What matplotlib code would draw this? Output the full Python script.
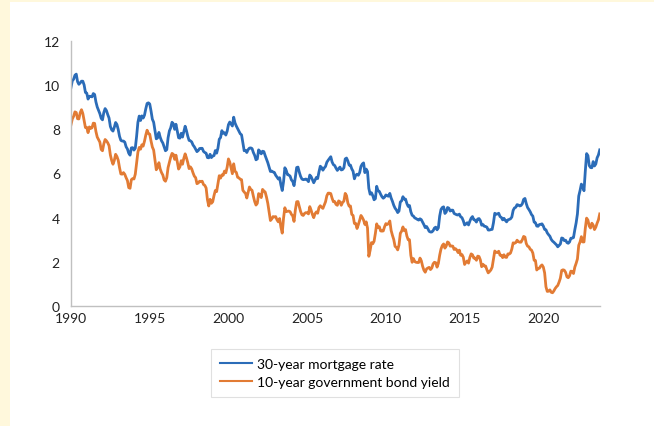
import numpy as np
import matplotlib.pyplot as plt
from matplotlib.patches import Rectangle

# monthly values, Jan 1990 - Aug 2023
start_year = 1990
mortgage_rate = [
    9.90, 10.20, 10.27, 10.45, 10.50, 10.16, 10.04, 10.10, 10.18, 10.18, 10.01, 9.67,   # 1990
    9.64, 9.37, 9.50, 9.49, 9.47, 9.62, 9.58, 9.24, 9.01, 8.86, 8.71, 8.50,             # 1991
    8.43, 8.76, 8.94, 8.85, 8.67, 8.51, 8.13, 7.98, 7.92, 8.09, 8.31, 8.22,             # 1992
    7.99, 7.68, 7.50, 7.47, 7.47, 7.42, 7.21, 7.11, 6.92, 6.83, 7.16, 7.17,             # 1993
    7.06, 7.15, 7.68, 8.32, 8.60, 8.40, 8.61, 8.51, 8.64, 8.93, 9.17, 9.20,             # 1994
    9.15, 8.83, 8.46, 8.32, 7.96, 7.57, 7.61, 7.86, 7.64, 7.48, 7.38, 7.20,             # 1995
    7.03, 7.08, 7.62, 7.93, 8.07, 8.32, 8.25, 8.00, 8.23, 7.92, 7.62, 7.60,             # 1996
    7.82, 7.65, 7.90, 8.14, 7.94, 7.69, 7.50, 7.48, 7.43, 7.29, 7.21, 7.10,             # 1997
    6.99, 7.04, 7.13, 7.14, 7.14, 7.00, 6.95, 6.92, 6.72, 6.71, 6.87, 6.72,             # 1998
    6.79, 6.81, 7.04, 6.92, 7.15, 7.55, 7.63, 7.94, 7.82, 7.85, 7.74, 7.91,             # 1999
    8.21, 8.33, 8.24, 8.15, 8.55, 8.29, 8.15, 8.03, 7.91, 7.80, 7.75, 7.38,             # 2000
    7.03, 7.05, 6.95, 7.08, 7.15, 7.16, 7.13, 6.95, 6.82, 6.62, 6.66, 7.07,             # 2001
    7.00, 6.89, 7.01, 6.99, 6.81, 6.65, 6.49, 6.29, 6.09, 6.11, 6.07, 6.05,             # 2002
    5.92, 5.84, 5.75, 5.81, 5.48, 5.23, 5.63, 6.26, 6.15, 5.95, 5.93, 5.88,             # 2003
    5.71, 5.64, 5.45, 5.83, 6.27, 6.29, 6.06, 5.87, 5.75, 5.72, 5.73, 5.75,             # 2004
    5.71, 5.63, 5.93, 5.86, 5.72, 5.58, 5.70, 5.82, 5.77, 6.07, 6.33, 6.27,             # 2005
    6.15, 6.25, 6.32, 6.51, 6.60, 6.68, 6.76, 6.52, 6.40, 6.36, 6.24, 6.14,             # 2006
    6.22, 6.29, 6.16, 6.18, 6.26, 6.66, 6.70, 6.57, 6.38, 6.38, 6.21, 6.10,             # 2007
    5.76, 5.92, 5.97, 5.92, 6.04, 6.32, 6.43, 6.48, 6.04, 6.20, 6.09, 5.33,             # 2008
    5.06, 5.13, 5.00, 4.81, 4.86, 5.42, 5.22, 5.19, 5.06, 4.95, 4.88, 4.93,             # 2009
    5.03, 4.99, 4.97, 5.10, 4.89, 4.74, 4.56, 4.43, 4.35, 4.23, 4.30, 4.71,             # 2010
    4.76, 4.95, 4.84, 4.84, 4.64, 4.51, 4.55, 4.27, 4.11, 4.07, 3.99, 3.96,             # 2011
    3.92, 3.89, 3.95, 3.91, 3.80, 3.68, 3.55, 3.60, 3.50, 3.38, 3.35, 3.35,             # 2012
    3.41, 3.53, 3.57, 3.45, 3.54, 4.07, 4.37, 4.46, 4.49, 4.19, 4.26, 4.46,             # 2013
    4.43, 4.30, 4.34, 4.34, 4.19, 4.16, 4.13, 4.12, 4.16, 4.04, 4.00, 3.86,             # 2014
    3.67, 3.71, 3.77, 3.67, 3.84, 3.98, 4.05, 3.91, 3.89, 3.80, 3.94, 3.96,             # 2015
    3.87, 3.66, 3.69, 3.61, 3.60, 3.57, 3.44, 3.44, 3.46, 3.47, 3.77, 4.20,             # 2016
    4.15, 4.17, 4.20, 4.05, 4.01, 3.90, 3.97, 3.88, 3.81, 3.90, 3.92, 3.95,             # 2017
    4.03, 4.33, 4.44, 4.47, 4.59, 4.57, 4.53, 4.55, 4.63, 4.83, 4.87, 4.64,             # 2018
    4.46, 4.37, 4.27, 4.14, 4.07, 3.80, 3.77, 3.62, 3.61, 3.69, 3.70, 3.72,             # 2019
    3.62, 3.47, 3.45, 3.31, 3.23, 3.16, 3.02, 2.94, 2.89, 2.83, 2.77, 2.68,             # 2020
    2.74, 2.81, 3.08, 3.06, 2.96, 2.98, 2.87, 2.84, 2.90, 3.07, 3.07, 3.10,             # 2021
    3.45, 3.76, 4.17, 4.98, 5.23, 5.52, 5.41, 5.22, 6.11, 6.90, 6.81, 6.36,             # 2022
    6.27, 6.26, 6.54, 6.34, 6.43, 6.71, 6.84, 7.07,                                     # 2023
]
bond_yield = [
    8.21, 8.47, 8.59, 8.79, 8.76, 8.48, 8.47, 8.75, 8.89, 8.72, 8.39, 8.08,             # 1990
    8.09, 7.85, 8.11, 8.04, 8.07, 8.28, 8.27, 7.90, 7.65, 7.53, 7.42, 7.09,             # 1991
    7.03, 7.34, 7.54, 7.48, 7.39, 7.26, 6.84, 6.59, 6.42, 6.59, 6.87, 6.77,             # 1992
    6.60, 6.26, 5.98, 5.97, 6.04, 5.96, 5.81, 5.68, 5.36, 5.33, 5.72, 5.77,             # 1993
    5.75, 5.97, 6.48, 6.97, 7.18, 7.10, 7.30, 7.24, 7.46, 7.74, 7.96, 7.81,             # 1994
    7.78, 7.47, 7.20, 7.06, 6.63, 6.17, 6.28, 6.49, 6.20, 6.04, 5.93, 5.71,             # 1995
    5.65, 5.81, 6.27, 6.51, 6.74, 6.91, 6.87, 6.64, 6.83, 6.53, 6.20, 6.30,             # 1996
    6.58, 6.42, 6.69, 6.89, 6.71, 6.49, 6.22, 6.30, 6.21, 6.03, 5.88, 5.81,             # 1997
    5.54, 5.57, 5.65, 5.64, 5.65, 5.50, 5.46, 5.34, 4.81, 4.53, 4.83, 4.65,             # 1998
    4.72, 5.00, 5.23, 5.18, 5.54, 5.90, 5.79, 5.94, 5.92, 6.11, 6.03, 6.28,             # 1999
    6.66, 6.52, 6.26, 5.99, 6.44, 6.10, 6.05, 5.83, 5.80, 5.74, 5.72, 5.24,             # 2000
    5.16, 5.10, 4.89, 5.14, 5.39, 5.28, 5.24, 4.97, 4.73, 4.57, 4.65, 5.09,             # 2001
    5.04, 4.91, 5.28, 5.21, 5.16, 4.93, 4.65, 4.26, 3.87, 3.94, 4.05, 4.03,             # 2002
    4.05, 3.90, 3.81, 3.96, 3.57, 3.30, 3.98, 4.45, 4.27, 4.29, 4.30, 4.27,             # 2003
    4.15, 4.08, 3.83, 4.35, 4.72, 4.73, 4.50, 4.28, 4.13, 4.10, 4.19, 4.23,             # 2004
    4.22, 4.17, 4.50, 4.34, 4.14, 4.00, 4.18, 4.26, 4.20, 4.46, 4.54, 4.47,             # 2005
    4.42, 4.57, 4.72, 4.99, 5.11, 5.11, 5.09, 4.88, 4.72, 4.73, 4.60, 4.56,             # 2006
    4.76, 4.72, 4.56, 4.69, 4.75, 5.10, 5.00, 4.67, 4.52, 4.53, 4.15, 4.10,             # 2007
    3.74, 3.74, 3.51, 3.68, 3.88, 4.10, 4.01, 3.89, 3.69, 3.81, 3.53, 2.25,             # 2008
    2.52, 2.87, 2.82, 2.93, 3.29, 3.72, 3.56, 3.59, 3.40, 3.39, 3.40, 3.59,             # 2009
    3.73, 3.69, 3.73, 3.85, 3.42, 3.20, 3.01, 2.70, 2.65, 2.54, 2.76, 3.29,             # 2010
    3.39, 3.58, 3.41, 3.46, 3.17, 3.00, 3.00, 2.30, 1.98, 2.15, 2.01, 1.98,             # 2011
    1.97, 1.97, 2.17, 2.05, 1.80, 1.62, 1.53, 1.68, 1.72, 1.75, 1.65, 1.72,             # 2012
    1.91, 1.98, 1.96, 1.76, 1.93, 2.30, 2.58, 2.74, 2.81, 2.62, 2.72, 2.90,             # 2013
    2.86, 2.71, 2.72, 2.71, 2.56, 2.60, 2.54, 2.42, 2.53, 2.30, 2.33, 2.21,             # 2014
    1.88, 1.98, 2.04, 1.94, 2.20, 2.36, 2.32, 2.17, 2.17, 2.07, 2.26, 2.24,             # 2015
    2.09, 1.78, 1.89, 1.81, 1.81, 1.64, 1.50, 1.56, 1.63, 1.76, 2.14, 2.49,             # 2016
    2.43, 2.42, 2.48, 2.30, 2.30, 2.19, 2.32, 2.21, 2.20, 2.36, 2.35, 2.40,             # 2017
    2.58, 2.86, 2.84, 2.87, 2.98, 2.91, 2.89, 2.89, 3.00, 3.15, 3.12, 2.83,             # 2018
    2.71, 2.68, 2.57, 2.53, 2.40, 2.07, 2.06, 1.63, 1.70, 1.71, 1.81, 1.86,             # 2019
    1.76, 1.50, 0.87, 0.66, 0.67, 0.73, 0.62, 0.60, 0.68, 0.79, 0.87, 0.93,             # 2020
    1.08, 1.26, 1.61, 1.64, 1.62, 1.52, 1.32, 1.28, 1.37, 1.58, 1.56, 1.47,             # 2021
    1.76, 1.93, 2.13, 2.75, 2.90, 3.14, 2.90, 2.90, 3.52, 3.98, 3.89, 3.62,             # 2022
    3.53, 3.75, 3.66, 3.46, 3.57, 3.75, 3.90, 4.17,                                     # 2023
]
tick_years = [1990, 1995, 2000, 2005, 2010, 2015, 2020]
y_ticks = [0, 2, 4, 6, 8, 10, 12]
labels = ['30-year mortgage rate', '10-year government bond yield']

blue = '#2b6cb8'
orange = '#e27b34'
grey = '#c0c0c0'

plt.rcParams['font.family'] = ['Lato', 'DejaVu Sans']

x = start_year + np.arange(len(mortgage_rate)) / 12.0

W, H = 654, 427
fig = plt.figure(figsize=(W / 100, H / 100), dpi=100, facecolor='#fff8dc')
# white panel on the cream background, kept behind the axes
fig.patches.append(Rectangle((10 / W, 0), 1, (H - 3) / H, transform=fig.transFigure,
                             facecolor='white', edgecolor='none', zorder=-10))

ax = fig.add_axes([71 / W, (H - 307) / H, (600 - 71) / W, (307 - 42) / H])
ax.set_facecolor('none')
ax.set_zorder(1)

ax.plot(x, mortgage_rate, color=blue, linewidth=2.0, label=labels[0])
ax.plot(x, bond_yield, color=orange, linewidth=2.0, label=labels[1])

ax.set_xlim(start_year, 2023.6)
ax.set_ylim(0, 12)
ax.set_xticks(tick_years)
ax.set_yticks(y_ticks)
ax.tick_params(length=0, labelsize=10, colors='#222222')
ax.tick_params(axis='y', pad=8)
ax.tick_params(axis='x', pad=4)

for side in ['top', 'right']:
    ax.spines[side].set_visible(False)
for side in ['left', 'bottom']:
    ax.spines[side].set_color(grey)
    ax.spines[side].set_linewidth(1.0)

leg = fig.legend(loc='upper center', bbox_to_anchor=(335 / W, (H - 350) / H),
                 fontsize=10, frameon=True, fancybox=False, handlelength=2.3,
                 handletextpad=0.4, borderpad=0.65, labelspacing=0.42,
                 borderaxespad=0)
leg.set_zorder(2)
leg.get_frame().set_edgecolor('#d9d9d9')
leg.get_frame().set_linewidth(0.8)
for h in leg.get_lines():
    h.set_linewidth(1.5)

fig.savefig('out.png', dpi=100, facecolor=fig.get_facecolor())
